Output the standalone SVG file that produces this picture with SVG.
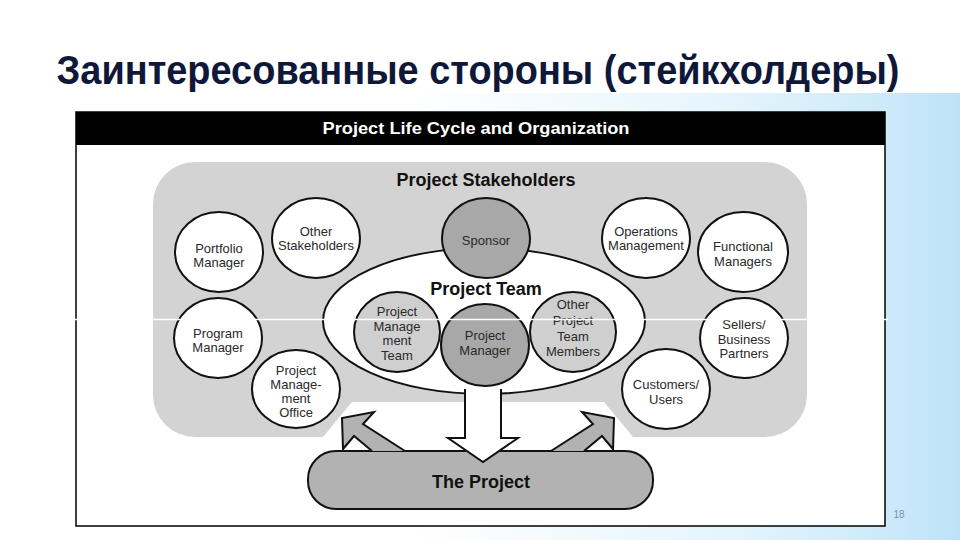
<svg xmlns="http://www.w3.org/2000/svg" width="960" height="540" viewBox="0 0 960 540">
  <defs>
    <linearGradient id="bg" x1="0" y1="0" x2="1" y2="0">
      <stop offset="0" stop-color="#ffffff"/>
      <stop offset="0.42" stop-color="#ffffff"/>
      <stop offset="0.75" stop-color="#e6f5fc"/>
      <stop offset="0.92" stop-color="#cdeafa"/>
      <stop offset="1" stop-color="#bde2f8"/>
    </linearGradient>
    <style>
      .lbl { font-family: "Liberation Sans", Arial, sans-serif; font-size: 13px; fill: #2a2a2a; text-anchor: middle; }
      .bold { font-family: "Liberation Sans", Arial, sans-serif; font-weight: bold; fill: #111; text-anchor: middle; }
      .wc { fill: #ffffff; stroke: #111; stroke-width: 2; }
      .lg { fill: #cfcfcf; stroke: #111; stroke-width: 2; }
      .dg { fill: #a8a8a8; stroke: #111; stroke-width: 2; }
      .arr { fill: #b2b2b2; stroke: #111; stroke-width: 2; stroke-linejoin: miter; }
    </style>
  </defs>

  <!-- slide background -->
  <rect x="0" y="0" width="960" height="540" fill="#ffffff"/>
  <rect x="0" y="93" width="960" height="447" fill="url(#bg)"/>

  <!-- title -->
  <text x="478" y="84" font-family="'Liberation Sans', Arial, sans-serif" font-weight="bold" font-size="40" fill="#0f1838" text-anchor="middle" textLength="843" lengthAdjust="spacingAndGlyphs">Заинтересованные стороны (стейкхолдеры)</text>

  <!-- frame -->
  <g id="frame">
    <rect x="76" y="112" width="809" height="414" fill="#ffffff" stroke="#000" stroke-width="1.5"/>
    <rect x="76" y="112" width="809" height="33" fill="#000"/>
    <text x="476" y="134" font-family="'Liberation Sans', Arial, sans-serif" font-weight="bold" font-size="16" fill="#ffffff" text-anchor="middle" textLength="307" lengthAdjust="spacingAndGlyphs">Project Life Cycle and Organization</text>
  </g>

  <!-- stakeholders area -->
  <g id="stakeholders">
    <path d="M195,162 H765 A42,42 0 0 1 807,204 V395 A42,42 0 0 1 765,437 H633 L604,402 H352 L323,437 H195 A42,42 0 0 1 153,395 V204 A42,42 0 0 1 195,162 Z" fill="#d3d3d3"/>
    <text class="bold" x="486" y="186" font-size="18">Project Stakeholders</text>
  </g>

  <g id="portfolio-manager">
    <ellipse class="wc" cx="219" cy="252" rx="44" ry="40"/>
    <text class="lbl" x="219" y="253">Portfolio</text>
    <text class="lbl" x="219" y="267">Manager</text>
  </g>
  <g id="other-stakeholders">
    <ellipse class="wc" cx="316" cy="238" rx="44" ry="40"/>
    <text class="lbl" x="316" y="236">Other</text>
    <text class="lbl" x="316" y="250">Stakeholders</text>
  </g>
  <g id="program-manager">
    <ellipse class="wc" cx="218" cy="338" rx="44" ry="40"/>
    <text class="lbl" x="218" y="338">Program</text>
    <text class="lbl" x="218" y="352">Manager</text>
  </g>
  <g id="pmo">
    <ellipse class="wc" cx="296" cy="389" rx="44" ry="39"/>
    <text class="lbl" x="296" y="375">Project</text>
    <text class="lbl" x="296" y="389">Manage-</text>
    <text class="lbl" x="296" y="403">ment</text>
    <text class="lbl" x="296" y="417">Office</text>
  </g>
  <g id="operations-management">
    <ellipse class="wc" cx="646" cy="238" rx="44" ry="40"/>
    <text class="lbl" x="646" y="236">Operations</text>
    <text class="lbl" x="646" y="250">Management</text>
  </g>
  <g id="functional-managers">
    <ellipse class="wc" cx="743" cy="252" rx="45" ry="40"/>
    <text class="lbl" x="743" y="251">Functional</text>
    <text class="lbl" x="743" y="266">Managers</text>
  </g>
  <g id="sellers">
    <ellipse class="wc" cx="744" cy="338" rx="44" ry="40"/>
    <text class="lbl" x="744" y="329">Sellers/</text>
    <text class="lbl" x="744" y="344">Business</text>
    <text class="lbl" x="744" y="358">Partners</text>
  </g>
  <g id="customers">
    <ellipse class="wc" cx="666" cy="389" rx="44" ry="40"/>
    <text class="lbl" x="666" y="389">Customers/</text>
    <text class="lbl" x="666" y="404">Users</text>
  </g>

  <!-- project team -->
  <g id="project-team">
    <ellipse class="wc" cx="484" cy="321" rx="161" ry="73"/>
    <text class="bold" x="486" y="295" font-size="18">Project Team</text>
  </g>
  <g id="sponsor">
    <ellipse class="dg" cx="486" cy="238" rx="44" ry="40"/>
    <text class="lbl" x="486" y="245">Sponsor</text>
  </g>
  <g id="pm-team">
    <ellipse class="lg" cx="397" cy="332" rx="43" ry="40"/>
    <text class="lbl" x="397" y="316">Project</text>
    <text class="lbl" x="397" y="331">Manage</text>
    <text class="lbl" x="397" y="345">ment</text>
    <text class="lbl" x="397" y="360">Team</text>
  </g>
  <g id="other-team-members">
    <ellipse class="lg" cx="573" cy="332" rx="43" ry="40"/>
    <text class="lbl" x="573" y="309">Other</text>
    <text class="lbl" x="573" y="325">Project</text>
    <text class="lbl" x="573" y="341">Team</text>
    <text class="lbl" x="573" y="356">Members</text>
  </g>
  <g id="project-manager">
    <ellipse class="dg" cx="485" cy="345" rx="44" ry="41"/>
    <text class="lbl" x="485" y="340">Project</text>
    <text class="lbl" x="485" y="355">Manager</text>
  </g>

  <!-- the project -->
  <g id="the-project">
    <rect x="308" y="451" width="345" height="58" rx="28" ry="28" fill="#b2b2b2" stroke="#111" stroke-width="2"/>
    <text class="bold" x="481" y="488" font-size="18">The Project</text>
  </g>

  <!-- connectors -->
  <g id="connectors">
    <path class="arr" d="M372,451 L354,436 L343,449 L342,418 L374,412 L363,424 L405,451"/>
    <path class="arr" d="M584,451 L602,436 L613,449 L614,418 L582,412 L593,424 L551,451"/>
    <path d="M465,389 V438 H448 L483,462 L518,438 H501 V389" fill="#ffffff" stroke="#111" stroke-width="2" stroke-linejoin="miter"/>
  </g>

  <!-- scan line artefact -->
  <line x1="74" y1="319.5" x2="888" y2="319.5" stroke="#ffffff" stroke-width="1.5"/>

  <text x="899" y="518" font-family="'Liberation Sans', Arial, sans-serif" font-size="10" fill="#7f8fa6" text-anchor="middle">18</text>
</svg>
